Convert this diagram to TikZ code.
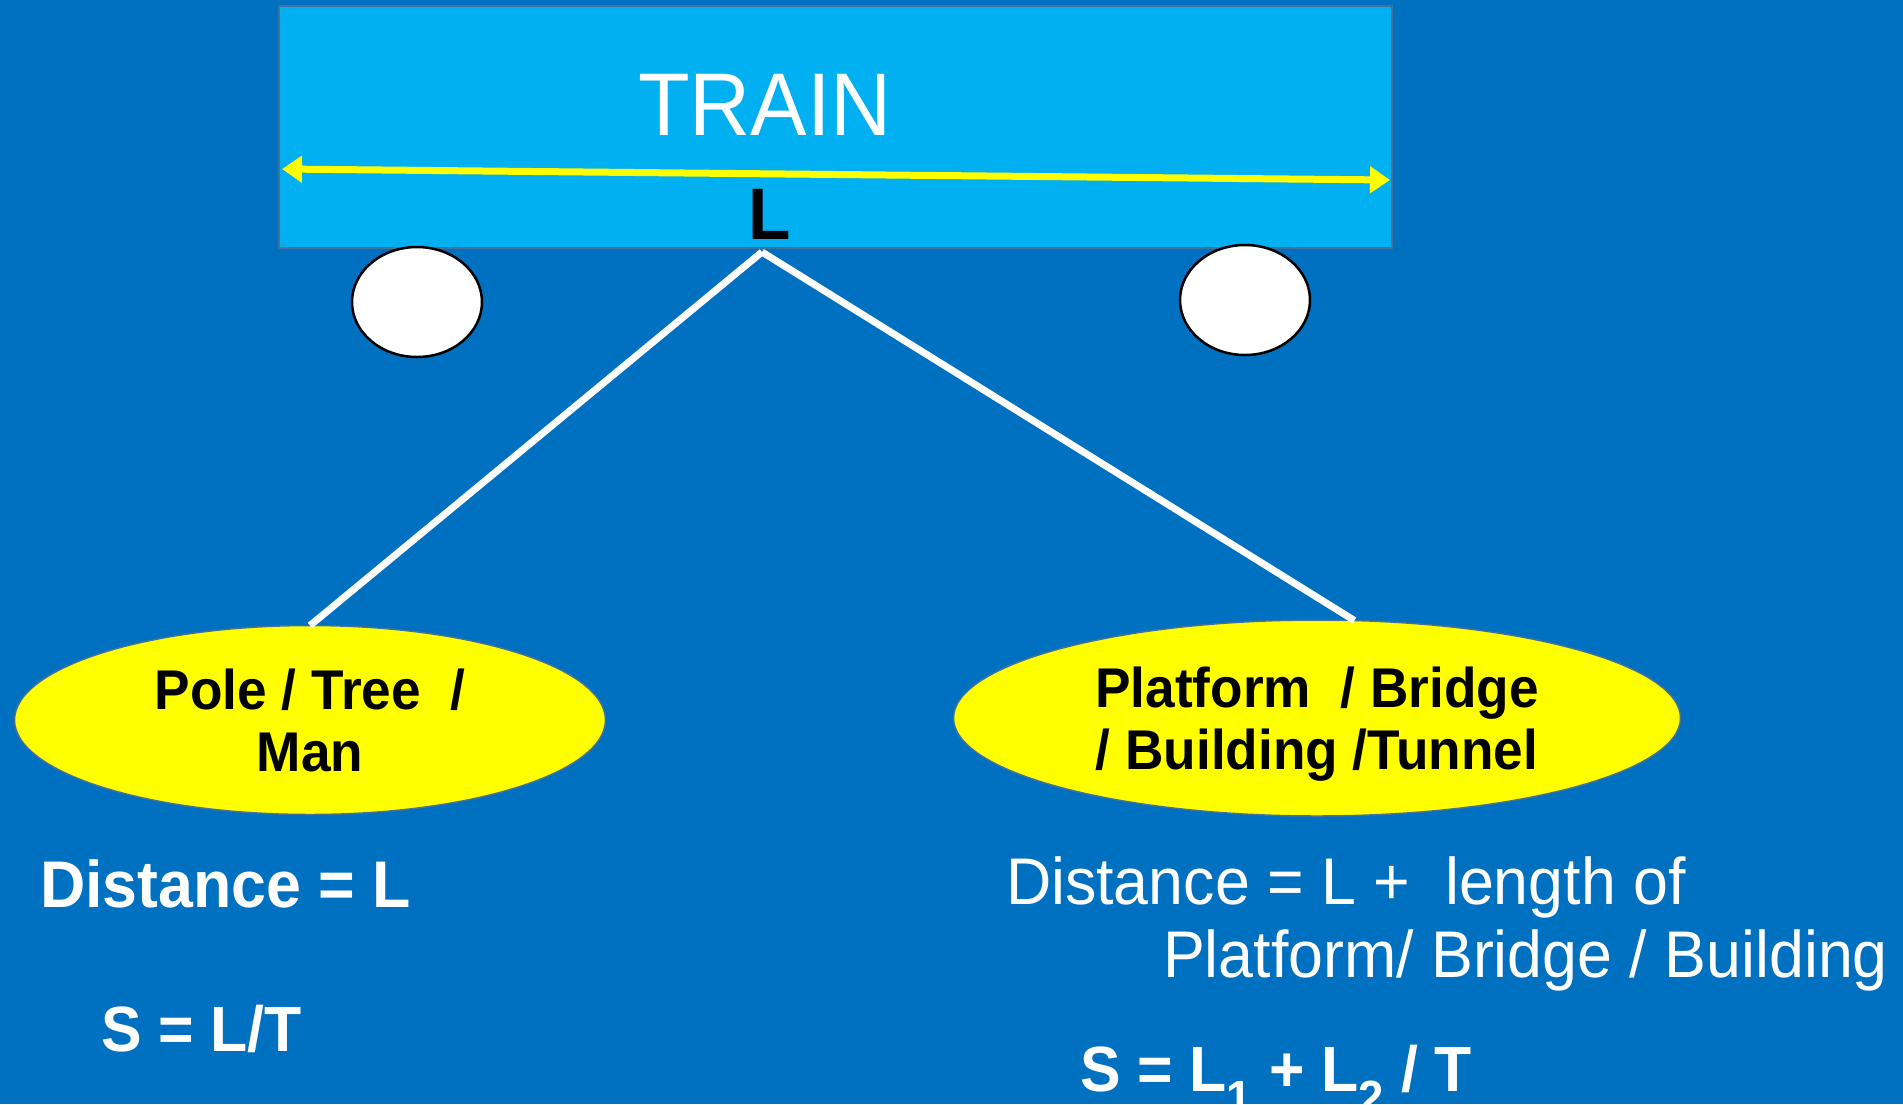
\documentclass[tikz,border=0pt]{standalone}
\usepackage{fontspec}
\setmainfont{Liberation Sans}[FakeStretch=0.95]
\usetikzlibrary{arrows.meta,shapes.geometric}
\definecolor{bgblue}{HTML}{0070C0}
\definecolor{trainblue}{HTML}{00B0F0}
\definecolor{edgeblue}{HTML}{41719C}
\definecolor{signyellow}{HTML}{FFFF00}
% subscripts set low, below the line
\newcommand{\lowsub}[1]{\raisebox{-23pt}{\fontsize{48}{48}\selectfont #1}}
% a line whose descenders take no room
\newcommand{\nodepth}[1]{\raisebox{0pt}[\height][0pt]{#1}}
\begin{document}
\begin{tikzpicture}[x=1pt,y=-1pt,
  every node/.style={inner sep=0pt, outer sep=0pt},
  carbody/.style={rectangle, draw=edgeblue, line width=2pt, fill=trainblue,
    minimum width=1113pt, minimum height=242pt},
  wheel/.style={ellipse, draw=black, line width=2.5pt, fill=white,
    minimum width=130pt, minimum height=110pt},
  spot/.style={ellipse, draw=edgeblue, line width=1.5pt, fill=signyellow,
    align=center, font=\bfseries\fontsize{56}{62}\selectfont},
  link/.style={draw=white, line width=7pt},
  gauge/.style={draw=signyellow, line width=7pt,
    {Triangle[length=20pt,width=26pt]}-{Triangle[length=20pt,width=26pt]}},
  caption/.style={text=white, anchor=base west, font=\fontsize{66}{80}\selectfont},
  boldcaption/.style={caption, font=\bfseries\fontsize{66}{80}\selectfont}
]
% background
\fill[bgblue] (0,0) rectangle (1903,1104);
\useasboundingbox (0,0) rectangle (1903,1104);

% train body, length arrow and wheels
\node[carbody] (train) at (835.5,127) {};
\node[text=white, anchor=base, font=\fontsize{89}{89}\selectfont] (trainlabel) at (765,135) {TRAIN};
\coordinate (gaugeL) at (282,169);
\coordinate (gaugeR) at (1390,180);
\draw[gauge] (gaugeL) -- (gaugeR);
\node[anchor=base, font=\bfseries\fontsize{73}{73}\selectfont] (lenlabel) at (770,239) {L};
\node[wheel] (wheelL) at (417,302) {};
\node[wheel] (wheelR) at (1245,300) {};

% the two kinds of objects passed
\node[spot, minimum width=591pt, minimum height=189pt] (pole) at (310,720) {Pole / Tree \ /\\Man};
\node[spot, minimum width=727pt, minimum height=196pt] (platform) at (1317,718) {Platform \ / Bridge\\\nodepth{/ Building /Tunnel}};

\coordinate (apex) at (762,252);
\draw[link] (apex) -- (pole.north);
\draw[link] (apex) -- (platform.69);

% formulas
\node[boldcaption] (distL) at (40,907) {Distance = L};
\node[boldcaption, font=\bfseries\fontsize{64}{80}\selectfont] (speedL) at (101,1051) {S = L/T};
\node[caption] (distR1) at (1006,904) {Distance = L + \ length of};
\node[caption] (distR2) at (1163,977) {Platform/ Bridge / Building};
\node[boldcaption, font=\bfseries\fontsize{64}{80}\selectfont] (speedR) at (1080,1091) {S = L\lowsub{1} + L\lowsub{2} / T};
\end{tikzpicture}
\end{document}
